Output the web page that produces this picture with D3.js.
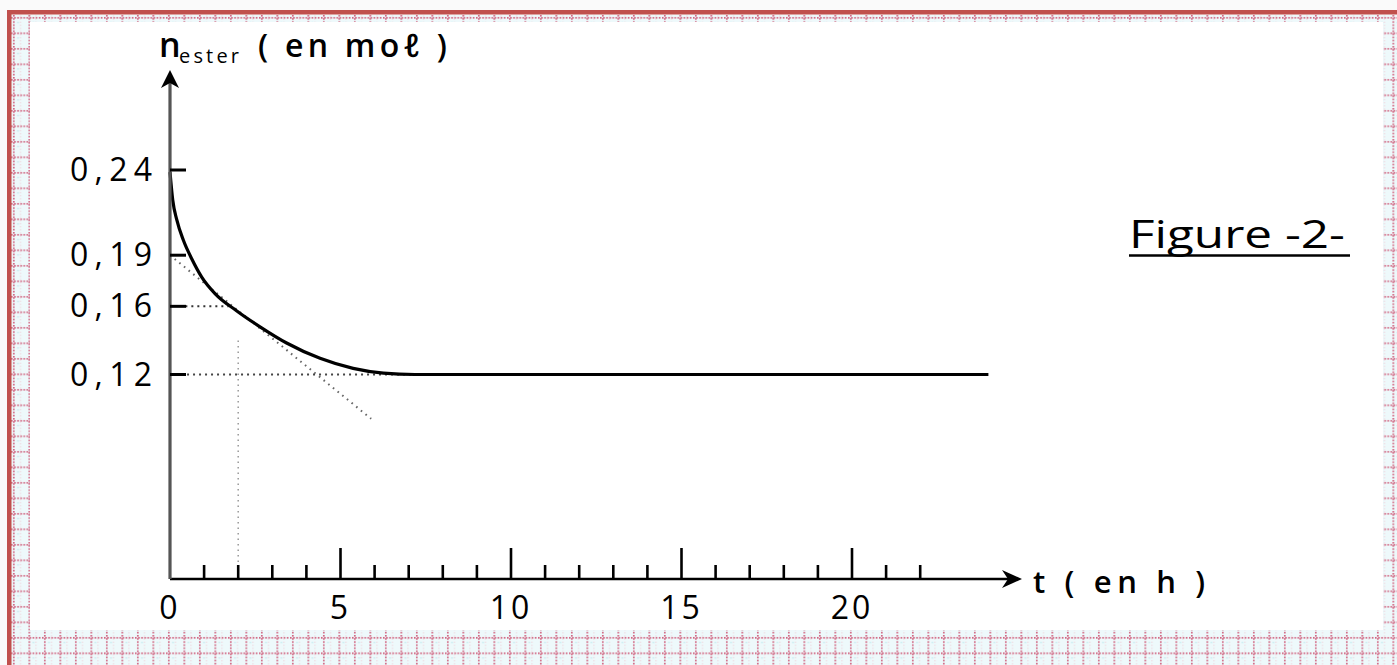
<!DOCTYPE html>
<html>
<head>
<meta charset="utf-8">
<script src="https://cdnjs.cloudflare.com/ajax/libs/d3/7.8.5/d3.min.js"></script>
<style>
  html, body { margin: 0; padding: 0; background: #fafafa; }
  svg { display: block; }
  text { font-family: "Comic Sans MS", "Open Sans", sans-serif; fill: #000; }
</style>
</head>
<body>
<svg id="chart" width="1397" height="665"></svg>
<script>
// ---- data ----
const timeValues   = [0, 0.08, 0.2, 0.39, 0.64, 0.93, 1.32, 1.96, 2.64, 3.42, 4.4, 5.37, 6.26, 7.18, 24];
const esterValues  = [0.2388, 0.2224, 0.2107, 0.1989, 0.1878, 0.1772, 0.1675, 0.1573, 0.148, 0.1385, 0.1295, 0.1236, 0.1208, 0.12, 0.12];
const tangentT     = [0, 5.9];
const tangentN     = [0.19, 0.094];
const yTickValues  = [0.24, 0.19, 0.16, 0.12];
const yTickLabels  = ["0,24", "0,19", "0,16", "0,12"];
const xTickValues  = d3.range(0, 23, 1);
const xLabelValues = [0, 5, 10, 15, 20];
const xLabelTexts  = ["0", "5", "10", "15", "20"];

const svg = d3.select("#chart");

// ---- decorative frame ----
const defs = svg.append("defs");
const pat = defs.append("pattern").attr("id", "frame").attr("patternUnits", "userSpaceOnUse")
  .attr("width", 15.5).attr("height", 15.5).attr("x", 11).attr("y", 15);
pat.append("rect").attr("width", 15.5).attr("height", 15.5).attr("fill", "#eef9fb");
for (let i = 0; i < 15.5; i += 3.1) {
  pat.append("rect").attr("x", 2).attr("y", i).attr("width", 1.6).attr("height", 1.6).attr("fill", "#cf5a78");
  pat.append("rect").attr("x", i).attr("y", 2).attr("width", 1.6).attr("height", 1.6).attr("fill", "#cf5a78");
  pat.append("rect").attr("x", 9).attr("y", i + 0.5).attr("width", 1).attr("height", 1).attr("fill", "#f2c6d0");
}
pat.append("rect").attr("x", 6).attr("y", 7).attr("width", 2).attr("height", 1).attr("fill", "#bfe9ef");

svg.append("rect").attr("x", 0).attr("y", 0).attr("width", 1397).attr("height", 665).attr("fill", "#fafafa");
svg.append("rect").attr("x", 11).attr("y", 15).attr("width", 1386).attr("height", 650).attr("fill", "url(#frame)");
svg.append("rect").attr("x", 30).attr("y", 22).attr("width", 1353).attr("height", 608).attr("fill", "#ffffff");
svg.append("rect").attr("x", 7).attr("y", 10).attr("width", 1390).attr("height", 4.5).attr("fill", "#c0504d");
svg.append("rect").attr("x", 7).attr("y", 10).attr("width", 4.5).attr("height", 655).attr("fill", "#c0504d");

// ---- scales ----
const x = d3.scaleLinear().domain([0, 24]).range([170, 988.4]);
const y = d3.scaleLinear().domain([0, 0.24]).range([579, 170]);

const g = svg.append("g");

// ---- construction dotted lines ----
g.append("line")
  .attr("x1", x(0)).attr("y1", y(tangentN[0])).attr("x2", x(tangentT[1])).attr("y2", y(tangentN[1]))
  .attr("stroke", "#666").attr("stroke-width", 2).attr("stroke-dasharray", "1.6,4.4");
g.append("line")
  .attr("x1", x(0.45)).attr("y1", y(0.16)).attr("x2", x(1.72)).attr("y2", y(0.16))
  .attr("stroke", "#333").attr("stroke-width", 2).attr("stroke-dasharray", "2,4");
g.append("line")
  .attr("x1", x(0.5)).attr("y1", y(0.12)).attr("x2", x(7.2)).attr("y2", y(0.12))
  .attr("stroke", "#444").attr("stroke-width", 2).attr("stroke-dasharray", "2,4");
g.append("line")
  .attr("x1", x(2)).attr("y1", y(0.14)).attr("x2", x(2)).attr("y2", y(0.008))
  .attr("stroke", "#999").attr("stroke-width", 1.5).attr("stroke-dasharray", "1.5,4");

// ---- curve ----
const pts = timeValues.map((t, i) => [t, esterValues[i]]);
g.append("path").datum(pts)
  .attr("fill", "none").attr("stroke", "#000").attr("stroke-width", 3.2)
  .attr("d", d3.line().x(d => x(d[0])).y(d => y(d[1])).curve(d3.curveMonotoneX));

// ---- x axis ----
const xAxisY = y(0);
g.append("line").attr("x1", x(0)).attr("y1", xAxisY).attr("x2", 1012).attr("y2", xAxisY)
  .attr("stroke", "#000").attr("stroke-width", 2.5);
g.append("path").attr("d", `M1022,${xAxisY} L1002,${xAxisY - 9} L1008,${xAxisY} L1002,${xAxisY + 9} Z`).attr("fill", "#000");
g.selectAll(".xt").data(xTickValues.filter(d => d > 0)).join("line")
  .attr("x1", d => x(d)).attr("x2", d => x(d))
  .attr("y1", xAxisY).attr("y2", d => xAxisY - (d % 5 === 0 ? 31 : 14))
  .attr("stroke", "#000").attr("stroke-width", 2.6);
g.selectAll(".xl").data(xLabelValues).join("text")
  .attr("x", d => x(d)).attr("y", 619).attr("text-anchor", "middle")
  .attr("font-size", 32).attr("font-weight", 500).attr("letter-spacing", 3)
  .text((d, i) => xLabelTexts[i]);
g.append("text").attr("x", 1033).attr("y", 593).attr("font-size", 31).attr("font-weight", 600)
  .attr("xml:space", "preserve").attr("textLength", 172).attr("lengthAdjust", "spacing")
  .text("t ( en h )");

// ---- y axis ----
g.append("line").attr("x1", x(0)).attr("y1", xAxisY).attr("x2", x(0)).attr("y2", 82)
  .attr("stroke", "#555").attr("stroke-width", 3.2);
g.append("path").attr("d", `M${x(0)},70 L${x(0) - 9},88 L${x(0)},83 L${x(0) + 9},88 Z`).attr("fill", "#000");
g.selectAll(".yt").data(yTickValues).join("line")
  .attr("x1", x(0)).attr("x2", x(0) + 16)
  .attr("y1", d => y(d)).attr("y2", d => y(d))
  .attr("stroke", "#000").attr("stroke-width", 3);
g.selectAll(".yl").data(yTickValues).join("text")
  .attr("x", 70).attr("y", d => y(d) + 11)
  .attr("font-size", 32).attr("font-weight", 500)
  .attr("textLength", 82).attr("lengthAdjust", "spacing")
  .text((d, i) => yTickLabels[i]);

g.append("text").attr("x", 159).attr("y", 57).attr("font-size", 34).attr("font-weight", 600).text("n");
g.append("text").attr("x", 179).attr("y", 63).attr("font-size", 20).attr("font-weight", 500)
  .attr("textLength", 60).attr("lengthAdjust", "spacing").text("ester");
g.append("text").attr("x", 258).attr("y", 57).attr("font-size", 32).attr("font-weight", 600)
  .attr("xml:space", "preserve").attr("textLength", 189).attr("lengthAdjust", "spacing")
  .text("( en mo\u2113 )");

// ---- figure caption ----
svg.append("text").attr("x", 1129).attr("y", 248).attr("font-size", 38).attr("font-weight", 500)
  .attr("textLength", 216).attr("lengthAdjust", "spacingAndGlyphs").text("Figure -2-");
svg.append("line").attr("x1", 1129).attr("x2", 1350).attr("y1", 255.5).attr("y2", 255.5)
  .attr("stroke", "#000").attr("stroke-width", 2.5);
</script>
</body>
</html>
